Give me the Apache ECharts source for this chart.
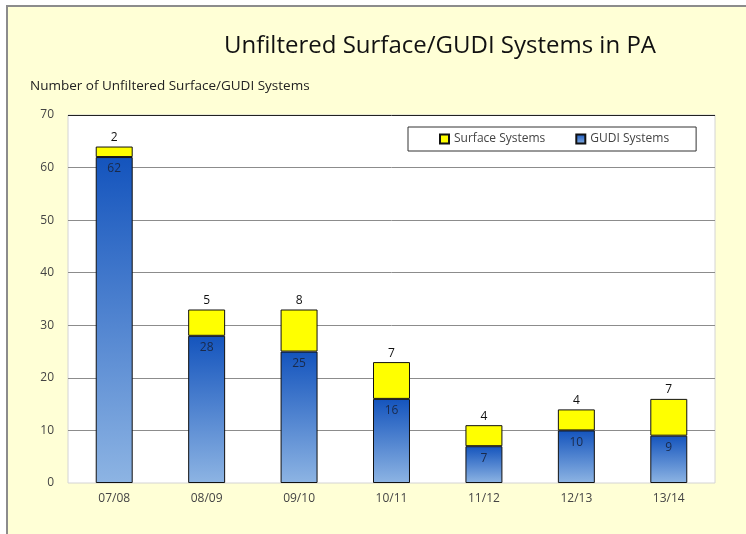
<!DOCTYPE html>
<html>
<head>
<meta charset="utf-8">
<script src="https://cdn.jsdelivr.net/npm/echarts@6/dist/echarts.min.js"></script>
<style>
    body { margin: 0; background: #fff; }
    #wrap { position: relative; width: 746px; height: 534px; }
    #frame {
        position: absolute; left: 6px; top: 5px; right: 0; bottom: 0;
        border-left: 2px solid #8c8c8c; border-top: 2px solid #8c8c8c;
        background: #FFFFD6;
    }
    #chart { position: absolute; left: 0; top: 0; width: 746px; height: 534px; }
</style>
</head>
<body>
<div id="wrap">
    <div id="frame"></div>
    <div id="chart"></div>
</div>
<script>
// 年度
var seasons = ["07/08", "08/09", "09/10", "10/11", "11/12", "12/13", "13/14"];
// GUDI systems
var gudiSystems = [62, 28, 25, 16, 7, 10, 9];
// surface systems
var surfaceSystems = [2, 5, 8, 7, 4, 4, 7];

var myChart = echarts.init(document.getElementById('chart'));
var option = {
    backgroundColor: 'transparent',
    textStyle: { fontFamily: 'Open Sans' },
    title: {
        text: 'Unfiltered Surface/GUDI Systems in PA',
        left: 435,
        textAlign: 'center',
        top: 29,
        textStyle: { fontSize: 24, fontWeight: 'normal', color: '#111', fontFamily: 'Open Sans' }
    },
    graphic: [{
        type: 'text',
        left: 30,
        top: 79,
        style: { text: 'Number of Unfiltered Surface/GUDI Systems', fontSize: 13.5, fill: '#222', fontFamily: 'Open Sans' }
    }],
    legend: {
        data: ['Surface Systems', 'GUDI Systems'],
        left: 408,
        top: 127,
        width: 286,
        backgroundColor: '#fff',
        borderColor: '#333',
        borderWidth: 1,
        padding: [6, 27, 6, 31],
        itemGap: 30,
        itemWidth: 9,
        itemHeight: 9,
        icon: 'rect',
        textStyle: { fontSize: 12, color: '#444' }
    },
    grid: {
        left: 68, right: 31, top: 115, bottom: 51,
        show: true,
        backgroundColor: '#fff',
        borderColor: '#d4d4d4',
        borderWidth: 1
    },
    xAxis: {
        type: 'category',
        data: seasons,
        axisTick: { show: false },
        axisLine: { show: false },
        axisLabel: { color: '#444', fontSize: 12, margin: 10 }
    },
    yAxis: {
        type: 'value',
        min: 0,
        max: 70,
        interval: 10,
        axisLine: { show: false },
        axisTick: { show: false },
        axisLabel: { color: '#444', fontSize: 12, margin: 14 },
        splitLine: {
            lineStyle: {
                color: ['rgba(0,0,0,0)', '#8c8c8c', '#8c8c8c', '#8c8c8c', '#8c8c8c', '#8c8c8c', '#8c8c8c', '#222'],
                width: 1
            }
        }
    },
    series: [{
        name: 'GUDI Systems',
        type: 'bar',
        stack: 'total',
        data: gudiSystems,
        barWidth: '40%',
        itemStyle: {
            borderColor: '#111',
            borderWidth: 1,
            color: {
                type: 'linear', x: 0, y: 0, x2: 0, y2: 1,
                colorStops: [
                    { offset: 0, color: '#1454BD' },
                    { offset: 1, color: '#8DB4E3' }
                ]
            }
        },
        label: {
            show: true,
            position: 'insideTop',
            distance: 6,
            color: '#1a2a4a',
            fontSize: 12
        }
    }, {
        name: 'Surface Systems',
        type: 'bar',
        stack: 'total',
        data: surfaceSystems,
        barWidth: '40%',
        itemStyle: {
            color: '#FFFF00',
            borderColor: '#111',
            borderWidth: 1
        },
        label: {
            show: true,
            position: 'top',
            distance: 3,
            color: '#111',
            fontSize: 12
        }
    }]
};
myChart.setOption(option);
</script>
</body>
</html>
